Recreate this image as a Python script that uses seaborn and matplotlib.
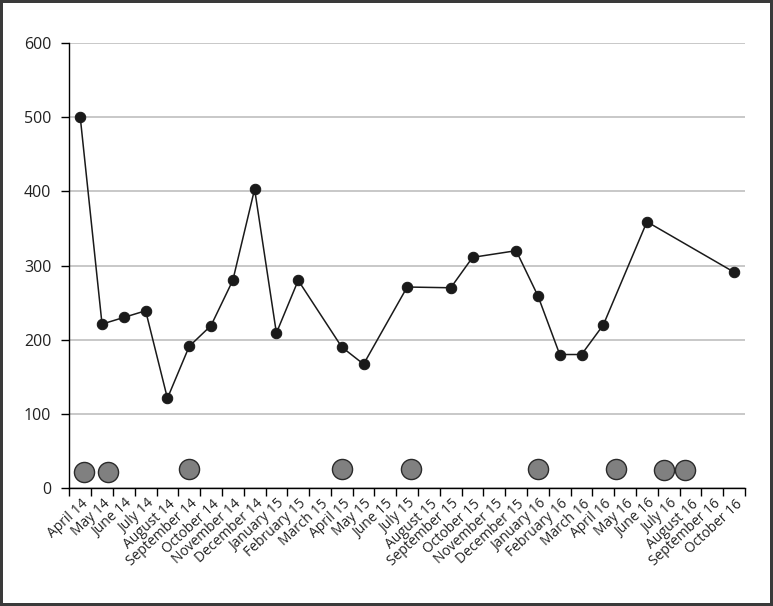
import matplotlib
matplotlib.use("Agg")
import matplotlib.pyplot as plt
import matplotlib.transforms as mtransforms
import seaborn as sns
import pandas as pd
import numpy as np

# ---- data ----
months = ["April 14", "May 14", "June 14", "July 14", "August 14", "September 14",
          "October 14", "November 14", "December 14", "January 15", "February 15",
          "March 15", "April 15", "May 15", "June 15", "July 15", "August 15",
          "September 15", "October 15", "November 15", "December 15", "January 16",
          "February 16", "March 16", "April 16", "May 16", "June 16", "July 16",
          "August 16", "September 16", "October 16"]

line_months = ["April 14", "May 14", "June 14", "July 14", "August 14", "September 14",
               "October 14", "November 14", "December 14", "January 15", "February 15",
               "April 15", "May 15", "July 15", "September 15", "October 15",
               "December 15", "January 16", "February 16", "March 16", "April 16",
               "June 16", "October 16"]
line_values = [500, 221, 230, 239, 121, 191, 219, 280, 403, 209, 280,
               190, 167, 271, 270, 311, 320, 259, 180, 180, 220, 359, 291]

# event markers: position along the month axis (in months from start) and height
event_pos = [0.67, 1.76, 5.48, 12.5, 15.67, 21.51, 25.07, 27.27, 28.24]
event_values = [21, 21, 25, 25, 25, 25, 25, 24, 24]

yticks = [0, 100, 200, 300, 400, 500, 600]

# ---- build frames ----
df_line = pd.DataFrame({"x": [months.index(m) + 0.5 for m in line_months],
                        "y": line_values})
df_ev = pd.DataFrame({"x": event_pos, "y": event_values})

sns.set_style("white")
plt.rcParams["font.family"] = ["Open Sans", "DejaVu Sans"]

fig = plt.figure(figsize=(7.73, 6.06), dpi=100)
ax = fig.add_axes([0.0897, 0.1947, 0.9638 - 0.0897, 0.929 - 0.1947])

ax.set_ylim(0, 600)
ax.set_xlim(0, len(months))
ax.set_yticks(yticks)
ax.yaxis.grid(True, color="#c4c4c4", linewidth=1.3)
ax.set_axisbelow(True)

sns.scatterplot(data=df_ev, x="x", y="y", ax=ax, s=210, color="#808080",
                edgecolor="#2b2b2b", linewidth=1.0, zorder=3, legend=False)
sns.lineplot(data=df_line, x="x", y="y", ax=ax, color="#1a1a1a", linewidth=1.1,
             marker="o", markersize=7.5, markeredgecolor="#1a1a1a", zorder=4,
             legend=False)

# ticks: major at month boundaries, labels at month centres
ax.set_xticks(np.arange(0, len(months) + 1))
ax.set_xticklabels([])
ax.set_xticks(np.arange(len(months)) + 0.5, minor=True)
ax.set_xticklabels(months, minor=True, rotation=43, ha="right",
                   rotation_mode="anchor", va="center", fontsize=10)
ax.tick_params(axis="x", which="major", direction="out", length=6, width=1,
               color="black", bottom=True)
ax.tick_params(axis="x", which="minor", length=0, pad=10)
ax.tick_params(axis="y", direction="out", length=6, width=1, color="black",
               left=True, pad=7, labelsize=11.5, labelcolor="#222222")
offset = mtransforms.ScaledTranslation(6 / 100, 0, fig.dpi_scale_trans)
for lab in ax.get_xticklabels(minor=True):
    lab.set_transform(lab.get_transform() + offset)
    lab.set_color("#222222")

ax.set_xlabel("")
ax.set_ylabel("")
for s in ["top", "right"]:
    ax.spines[s].set_visible(False)
for s in ["left", "bottom"]:
    ax.spines[s].set_color("black")
    ax.spines[s].set_linewidth(1.0)

fig.patch.set_edgecolor("#3a3a3a")
fig.patch.set_linewidth(3)
fig.savefig("out.png", dpi=100, facecolor="white", edgecolor=fig.get_edgecolor())
